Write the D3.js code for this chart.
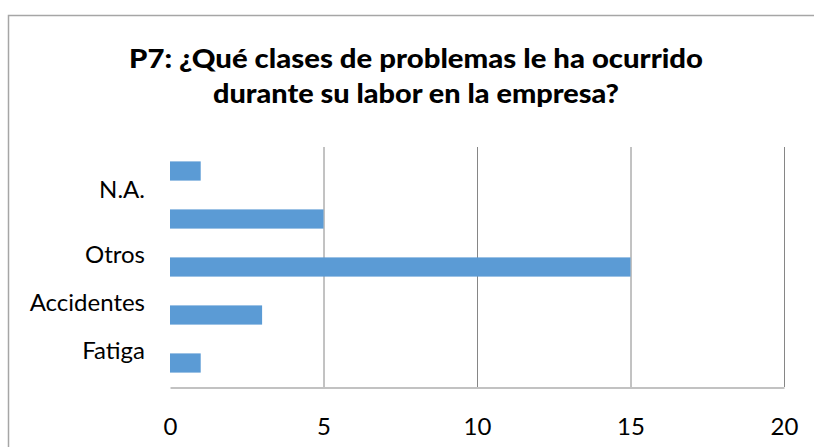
<!DOCTYPE html>
<html>
<head>
<meta charset="utf-8">
<script src="https://cdn.jsdelivr.net/npm/d3@7"></script>
<style>
  html, body { margin: 0; padding: 0; background: #fff; }
  svg { display: block; }
</style>
</head>
<body>
<svg id="chart" width="814" height="447"></svg>
<script>
// ---- data ----
const categories = ["N.A.", "", "Otros", "Accidentes", "Fatiga"];
const values = [1, 5, 15, 3, 1];
const axisLabels = ["N.A.", "Otros", "Accidentes", "Fatiga"];
const axisLabelSlots = [0.885, 2.24, 3.24, 4.24];
const xTicks = [0, 5, 10, 15, 20];
const titleLines = ["P7: ¿Qué clases de problemas le ha ocurrido", "durante su labor en la empresa?"];

// ---- layout ----
const svg = d3.select("#chart");
const plot = { left: 170, right: 784, top: 147, bottom: 387 };
const font = "Lato, 'Open Sans', sans-serif";
const titleWidths = [574, 406];

// chart border
svg.append("rect")
  .attr("x", 8.5).attr("y", 15.5)
  .attr("width", 900).attr("height", 600)
  .attr("fill", "#fff").attr("stroke", "#a6a6a6").attr("stroke-width", 1.5);

// title
svg.append("g").selectAll("text").data(titleLines).join("text")
  .attr("x", 416)
  .attr("y", (d, i) => 68 + i * 35)
  .attr("text-anchor", "middle")
  .attr("font-family", font)
  .attr("font-weight", "900")
  .attr("font-size", 26)
  .attr("textLength", (d, i) => titleWidths[i])
  .attr("lengthAdjust", "spacingAndGlyphs")
  .attr("fill", "#000")
  .text(d => d);

const x = d3.scaleLinear().domain([0, 20]).range([plot.left, plot.right]);
const y = d3.scaleBand().domain(categories).range([plot.top, plot.bottom])
  .paddingInner(0.6).paddingOuter(0.3);
const ySlots = d3.scaleLinear().domain([0, categories.length]).range([plot.top, plot.bottom]);

// gridlines
svg.append("g").selectAll("line").data(xTicks.filter(t => t > 0)).join("line")
  .attr("x1", d => x(d) + 0.5).attr("x2", d => x(d) + 0.5)
  .attr("y1", plot.top).attr("y2", plot.bottom)
  .attr("stroke", "#868686").attr("stroke-width", 1);

// bars
svg.append("g").selectAll("rect").data(values).join("rect")
  .attr("x", x(0))
  .attr("y", (d, i) => y(categories[i]))
  .attr("width", d => x(d) - x(0))
  .attr("height", y.bandwidth())
  .attr("fill", "#5b9bd5");

// x axis
const xAxis = d3.axisBottom(x).tickValues(xTicks).tickSize(0).tickPadding(30);
const gx = svg.append("g").attr("transform", `translate(0,${plot.bottom + 0.5})`).call(xAxis);
gx.select(".domain").attr("stroke", "#868686").attr("stroke-width", 1.2);
gx.selectAll("text").attr("font-family", font).attr("font-size", 24).attr("fill", "#000");

// category labels
const yAxis = d3.axisLeft(ySlots).tickValues(axisLabelSlots)
  .tickFormat((d, i) => axisLabels[i]).tickSize(0).tickPadding(25);
const gy = svg.append("g").attr("transform", `translate(${plot.left},0)`).call(yAxis);
gy.select(".domain").remove();
gy.selectAll("text").attr("font-family", font).attr("font-size", 24).attr("fill", "#000");
</script>
</body>
</html>
